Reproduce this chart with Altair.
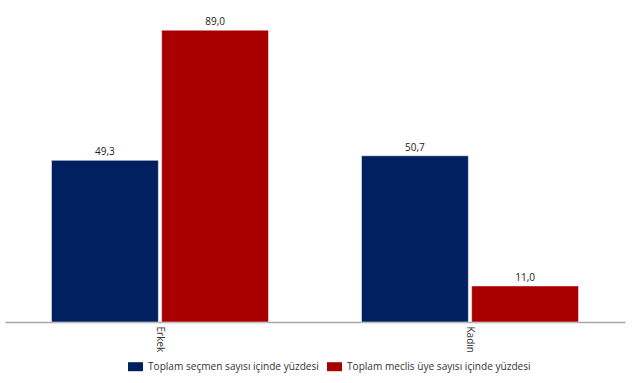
import altair as alt
import pandas as pd

categories = ["Erkek", "Kadın"]
series = ["Toplam seçmen sayısı içinde yüzdesi", "Toplam meclis üye sayısı içinde yüzdesi"]
secmen = [49.3, 50.7]
meclis = [89.0, 11.0]
colors = ["#002060", "#A80000"]

rows = []
for i, c in enumerate(categories):
    rows.append({"cat": c, "series": series[0], "value": secmen[i], "order": 0})
    rows.append({"cat": c, "series": series[1], "value": meclis[i], "order": 1})
df = pd.DataFrame(rows)

FONT = "Open Sans"

base = alt.Chart(df).transform_calculate(
    label="replace(format(datum.value, '.1f'), '.', ',')"
)

x = alt.X("cat:N", title=None, sort=categories,
          scale=alt.Scale(paddingInner=0.3, paddingOuter=0.15),
          axis=alt.Axis(labelAngle=90, labelAlign="left", labelBaseline="middle",
                        labelFont=FONT, labelFontSize=10, labelColor="#333333",
                        ticks=False, domainColor="#A6A6A6", domainWidth=1.5,
                        labelPadding=4))
xo = alt.XOffset("series:N", sort=series, scale=alt.Scale(paddingInner=0.03))
y = alt.Y("value:Q", scale=alt.Scale(domain=[0, 98.2], nice=False), axis=None)

bars = base.mark_bar(stroke="#ffffff", strokeWidth=0.5).encode(
    x=x, xOffset=xo, y=y,
    color=alt.Color("series:N", sort=series,
                    scale=alt.Scale(domain=series, range=colors),
                    legend=alt.Legend(title=None, orient="none", direction="horizontal",
                                      legendX=123, legendY=359,
                                      symbolType="M-1,-0.6L1,-0.6L1,0.6L-1,0.6Z",
                                      symbolSize=225,
                                      symbolStrokeWidth=0, labelOffset=5,
                                      labelFont=FONT, labelFontSize=10.1,
                                      labelColor="#333333", columnPadding=8,
                                      labelLimit=300))
)

text = base.mark_text(dy=-8, font=FONT, fontSize=10, color="#222222").encode(
    x=x, xOffset=xo, y=y, text="label:N"
)

chart = alt.layer(bars, text).properties(
    width=620, height=322,
    autosize=alt.AutoSizeParams(type="none"),
    padding={"left": 5, "top": 0, "right": 8, "bottom": 61},
).configure_view(stroke=None)

chart.save("out.html", embed_options={"renderer": "svg", "actions": False})
